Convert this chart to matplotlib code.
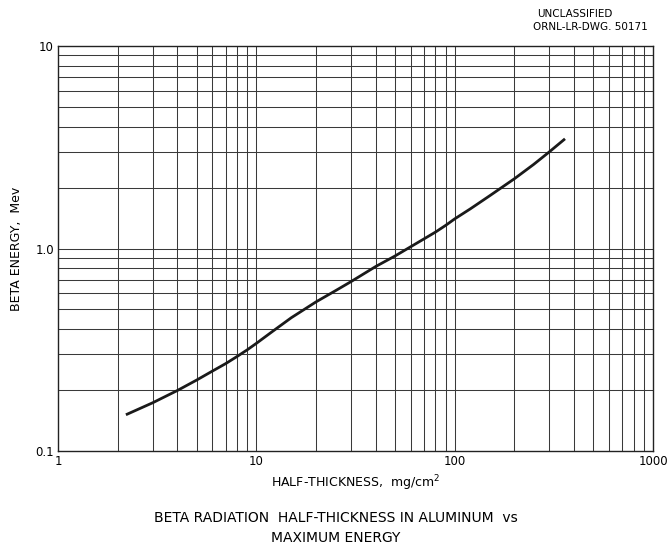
import matplotlib
matplotlib.use("Agg")
import matplotlib.pyplot as plt
import numpy as np
from matplotlib.ticker import FixedLocator, NullFormatter

# Data
half_thickness = [2.2, 3, 4, 5, 6, 7, 8, 9, 10, 12, 15, 20, 25, 30, 40, 50,
                  60, 70, 80, 90, 100, 120, 150, 200, 250, 300, 360]
beta_energy = [0.151, 0.173, 0.199, 0.224, 0.248, 0.270, 0.293, 0.316, 0.340,
               0.388, 0.455, 0.545, 0.618, 0.686, 0.815, 0.918, 1.02, 1.115,
               1.205, 1.30, 1.40, 1.57, 1.82, 2.21, 2.60, 3.00, 3.48]

x_ticks = [1, 10, 100, 1000]
x_tick_labels = ["1", "10", "100", "1000"]
y_ticks = [0.1, 1.0, 10]
y_tick_labels = ["0.1", "1.0", "10"]

fig = plt.figure(figsize=(6.71, 5.54), dpi=100)
ax = fig.add_axes([58/671, 1-451/554, (653-58)/671, (451-46)/554])

ax.set_xscale("log")
ax.set_yscale("log")
ax.set_xlim(1, 1000)
ax.set_ylim(0.1, 10)

# grid lines of the log paper
minor_x = [m * 10**e for e in range(0, 3) for m in range(2, 10)]
minor_y = [m * 10**e for e in range(-1, 1) for m in range(2, 10)]
for v in minor_x + x_ticks[1:-1]:
    ax.axvline(v, color="#3a3a3a", lw=0.75, zorder=1)
for v in minor_y + y_ticks[1:-1]:
    ax.axhline(v, color="#3a3a3a", lw=0.75, zorder=1)

ax.plot(half_thickness, beta_energy, color="#1a1a1a", lw=2.0, zorder=3,
        solid_capstyle="butt")

ax.xaxis.set_major_locator(FixedLocator(x_ticks))
ax.yaxis.set_major_locator(FixedLocator(y_ticks))
ax.xaxis.set_minor_formatter(NullFormatter())
ax.yaxis.set_minor_formatter(NullFormatter())
ax.set_xticklabels(x_tick_labels)
ax.set_yticklabels(y_tick_labels)
ax.tick_params(which="both", length=0, labelsize=8.5, pad=3)
for s in ax.spines.values():
    s.set_linewidth(1.0)
    s.set_color("#222222")

ax.set_xlabel("HALF-THICKNESS,  mg/cm$^2$", fontsize=9, labelpad=4)
ax.set_ylabel("BETA ENERGY,  Mev", fontsize=9, labelpad=9)

fig.text(0.800, 1-14/554, "UNCLASSIFIED", fontsize=7.5, ha="left", va="center")
fig.text(0.795, 1-27/554, "ORNL-LR-DWG. 50171", fontsize=7.5, ha="left", va="center")

fig.text(0.5, 1-518/554, "BETA RADIATION  HALF-THICKNESS IN ALUMINUM  vs",
         fontsize=10, ha="center", va="center")
fig.text(0.5, 1-538/554, "MAXIMUM ENERGY", fontsize=10, ha="center", va="center")

fig.savefig("out.png", dpi=100)
